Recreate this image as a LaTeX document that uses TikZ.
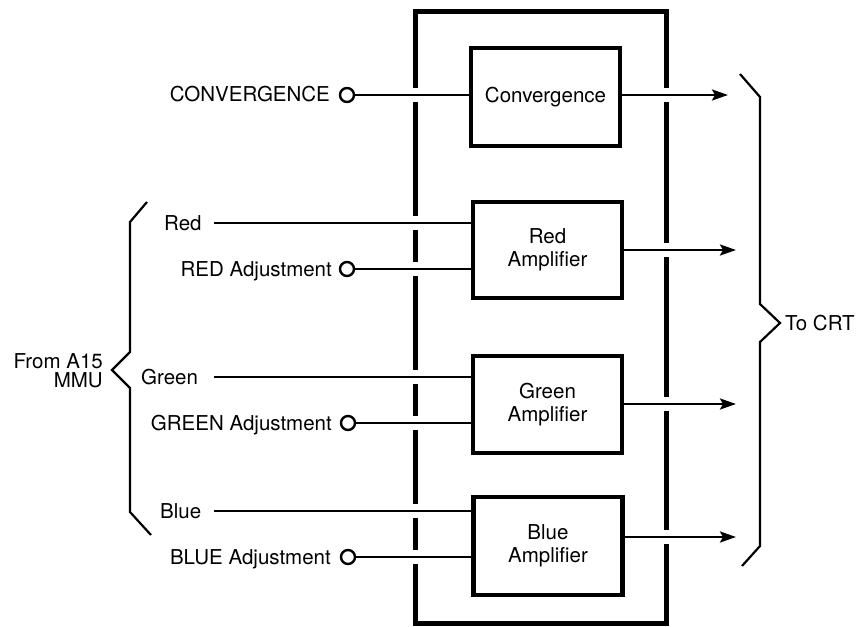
\documentclass[tikz,border=0pt]{standalone}
\usepackage{fontspec}
\setmainfont{TeX Gyre Heros}
\usetikzlibrary{arrows.meta}
\begin{document}
\begin{tikzpicture}[x=1pt,y=-1pt,
  framebox/.style={draw, line width=5pt, minimum width=251pt, minimum height=612pt, inner sep=0pt},
  blk/.style={draw, line width=4.8pt, minimum width=149pt, minimum height=97pt, inner sep=0pt, align=center, font=\fontsize{20.5}{23.5}\selectfont},
  sig/.style={line width=2.4pt},
  term/.style={circle, draw, line width=2.4pt, minimum size=14pt, inner sep=0pt},
  lbl/.style={inner sep=0pt, font=\fontsize{20.5}{19}\selectfont},
  brc/.style={line width=2.2pt, line join=miter},
  arr/.style={sig, -{Stealth[length=16pt,width=11pt,inset=3pt]}},
  gap/.style={fill=white, draw=none}
]
\useasboundingbox (0,0) rectangle (863,627);

% outer frame
\node[framebox] (frame) at (540.5,317) {};
\foreach \yy in {95,223,269,377,423,511,557}
  \fill[gap] (410,\yy-7) rectangle (420,\yy+7);
\foreach \yy in {95,250,404,537}
  \fill[gap] (661,\yy-7) rectangle (671,\yy+7);

% terminals
\node[term] (tc) at (347,95) {};
\node[term] (tr) at (347,269) {};
\node[term] (tg) at (348,423) {};
\node[term] (tb) at (348,557) {};

% left labels
\node[lbl, anchor=base east] (lc) at (330,101.5) {CONVERGENCE};
\node[lbl, anchor=base east] (lra) at (332,276) {RED Adjustment};
\node[lbl, anchor=base east] (lga) at (332,430.5) {GREEN Adjustment};
\node[lbl, anchor=base east] (lba) at (331,564.5) {BLUE Adjustment};
\node[lbl, anchor=base west] (lr) at (164,230.5) {Red};
\node[lbl, anchor=base west] (lg) at (141,384) {Green};
\node[lbl, anchor=base west] (lb) at (160,518.5) {Blue};
\node[lbl, anchor=east, align=right] (lmmu) at (103,371) {From A15\\MMU};
\node[lbl, anchor=base west] (lcrt) at (785,330.5) {To CRT};

% signal line start points
\coordinate (sr) at (214,223);
\coordinate (sg) at (214,377);
\coordinate (sb) at (214,511);

% block centres
\coordinate (bconv) at (545.5,97);
\coordinate (bred) at (547.5,250);
\coordinate (bgreen) at (547.5,404.5);
\coordinate (bblue) at (548,546);

% input lines
\draw[sig] (tc.east) -- (471,95);
\draw[sig] (tr.east) -- (473,269);
\draw[sig] (tg.east) -- (473,423);
\draw[sig] (tb.east) -- (474,557);
\draw[sig] (sr) -- (473,223);
\draw[sig] (sg) -- (473,377);
\draw[sig] (sb) -- (474,511);

% blocks
\node[blk, minimum height=98pt] (conv) at (bconv) {Convergence};
\node[blk, minimum height=96pt] (red) at (bred) {Red\\Amplifier};
\node[blk] (green) at (bgreen) {Green\\Amplifier};
\node[blk, minimum height=98pt] (blue) at (bblue) {Blue\\Amplifier};

% outputs
\coordinate (oc) at (728,95);
\coordinate (orr) at (736,250);
\coordinate (og) at (736,404);
\coordinate (ob) at (736,537);
\draw[arr] (conv.east |- oc) -- (oc);
\draw[arr] (red.east |- orr) -- (orr);
\draw[arr] (green.east |- og) -- (og);
\draw[arr] (blue.east |- ob) -- (ob);

% braces
\draw[brc] (147,202) -- (130,222) -- (130,352) -- (112,370) -- (130,388) -- (130,512) -- (151,535);
\draw[brc] (740,74) -- (760,97) -- (760,304) -- (780,323) -- (760,342) -- (760,546) -- (742,566);
\end{tikzpicture}
\end{document}
